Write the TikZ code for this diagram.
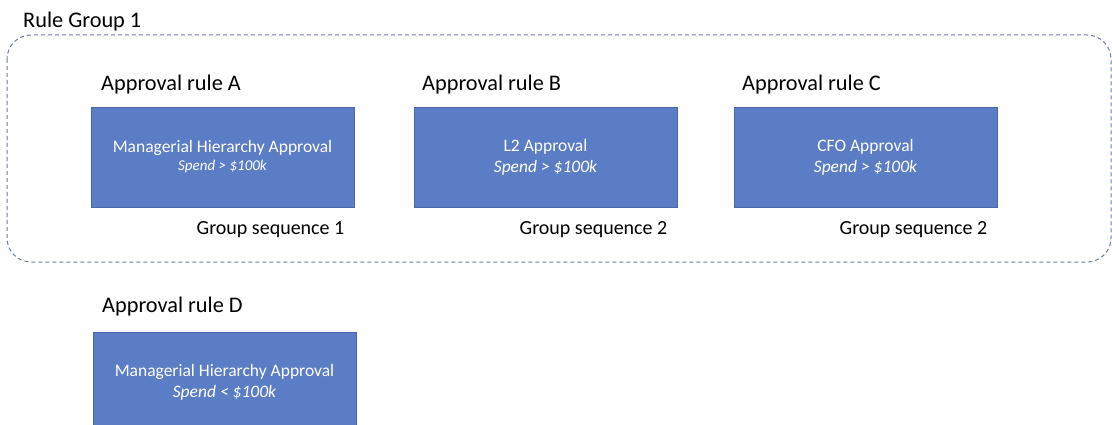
\documentclass[tikz,border=0pt]{standalone}
\usepackage{fontspec}
\setmainfont{Carlito}
\usepackage{xcolor,tikz}
\usetikzlibrary{positioning}
\definecolor{rulefill}{HTML}{5B7DC5}
\definecolor{ruleedge}{HTML}{4A68A9}
\definecolor{groupedge}{HTML}{6B7CA2}

\begin{document}
\begin{tikzpicture}[x=1pt,y=-1pt,
 rb/.style={draw=ruleedge,line width=0.8pt,fill=rulefill,text=white,align=center,
 minimum width=263pt,minimum height=100pt,inner sep=0pt,font=\fontsize{17.5}{21}\selectfont},
 hd/.style={anchor=west,inner sep=0pt,font=\fontsize{22.3}{26}\selectfont},
 sq/.style={inner sep=0pt,font=\fontsize{20}{24}\selectfont}]
\clip (0,0) rectangle (1112,425);
% dashed group frame
\draw[groupedge,line width=1pt,dash pattern=on 4pt off 3pt,rounded corners=24pt] (7,35) rectangle (1111,262);
\node[hd] (grp) at (23,22) {Rule Group 1};
% rules
\node[hd] (ha) at (101,85) {Approval rule A};
\node[hd] (hb) at (422,85) {Approval rule B};
\node[hd] (hc) at (742,85) {Approval rule C};
\node[rb] (ra) at (222.5,157) {Managerial Hierarchy Approval\\[-3pt]{\fontsize{15}{18}\selectfont\itshape Spend > \$100k}};
\node[rb] (rb) at (545.5,157) {L2 Approval\\{\itshape Spend > \$100k}};
\node[rb] (rc) at (865.5,157) {CFO Approval\\{\itshape Spend > \$100k}};
\node[sq] (sa) at (270.5,230) {Group sequence 1};
\node[sq] (sb) at (593.5,230) {Group sequence 2};
\node[sq] (sc) at (913.5,230) {Group sequence 2};
% outside the group
\node[hd] (hd) at (102,307) {Approval rule D};
\node[rb,anchor=north] (rd) at (224.5,332) {Managerial Hierarchy Approval\\{\itshape Spend < \$100k}};
\end{tikzpicture}
\end{document}
